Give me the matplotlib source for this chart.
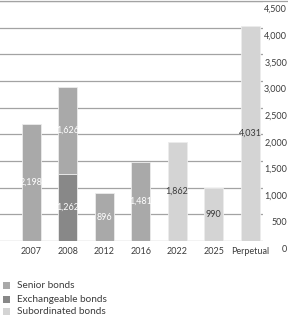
import matplotlib
matplotlib.use("Agg")
import matplotlib.pyplot as plt
from matplotlib.lines import Line2D
from matplotlib.patches import Rectangle

# データ
years = ["2007", "2008", "2012", "2016", "2022", "2025", "Perpetual"]
senior = [2198, 1626, 896, 1481, 0, 0, 0]
exchangeable = [0, 1262, 0, 0, 0, 0, 0]
subordinated = [0, 0, 0, 0, 1862, 990, 4031]
y_ticks = [0, 500, 1000, 1500, 2000, 2500, 3000, 3500, 4000, 4500]
legend_labels = ["Senior bonds", "Exchangeable bonds", "Subordinated bonds"]

c_senior = "#a9a9a9"
c_exch = "#888888"
c_sub = "#d4d4d4"
c_grid = "#a3a3a3"
c_text = "#3c3c3c"

plt.rcParams["font.family"] = ["Lato", "DejaVu Sans"]

fig = plt.figure(figsize=(2.88, 3.17), dpi=100)
ax = fig.add_axes([0, 0.24, 0.913, 0.757])

x = list(range(len(years)))
w = 0.52
edge = dict(edgecolor="#ececec", linewidth=0.6)

# グリッド
for t in y_ticks:
    ax.axhline(t, color=c_grid, linewidth=0.9, zorder=0)

ax.bar(x, exchangeable, w, color=c_exch, zorder=2, **edge)
ax.bar(x, senior, w, bottom=exchangeable, color=c_senior, zorder=2, **edge)
ax.bar(x, subordinated, w, color=c_sub, zorder=2, **edge)

# 値ラベル
fs = 6.5
for i in x:
    if exchangeable[i]:
        ax.text(i, exchangeable[i] / 2, f"{exchangeable[i]:,}", ha="center", va="center",
                color="white", fontsize=fs, zorder=3)
    if senior[i]:
        ax.text(i, exchangeable[i] + senior[i] / 2, f"{senior[i]:,}", ha="center", va="center",
                color="white", fontsize=fs, zorder=3)
    if subordinated[i]:
        ax.text(i, subordinated[i] / 2, f"{subordinated[i]:,}", ha="center", va="center",
                color=c_text, fontsize=fs, zorder=3)

ax.set_xlim(-0.855, 6.35)
ax.set_ylim(0, 4500)
ax.set_xticks([])
ax.set_yticks([])
for s in ax.spines.values():
    s.set_visible(False)

# x軸ラベル
for i, lab in zip(x, years):
    ax.text(i, -110, lab, ha="center", va="top", fontsize=fs, color=c_text)

# y軸ラベル（右側、線の下）
for t in y_ticks:
    fy = 0.24 + 0.757 * t / 4500
    fig.text(0.997, fy - 0.013, f"{t:,}", ha="right", va="top", fontsize=fs, color=c_text)

# 上端の線
fig.add_artist(Line2D([0, 1], [0.997, 0.997], color=c_grid, linewidth=0.9, transform=fig.transFigure))

# 凡例
leg_y = [0.098, 0.056, 0.016]
for (lab, col), ly in zip(zip(legend_labels, [c_senior, c_exch, c_sub]), leg_y):
    fig.add_artist(Rectangle((0.011, ly - 0.011), 0.024, 0.022, facecolor=col,
                             edgecolor="none", transform=fig.transFigure))
    fig.text(0.06, ly, lab, ha="left", va="center", fontsize=7.2, color=c_text)

plt.savefig("out.png", dpi=100)
plt.close()
